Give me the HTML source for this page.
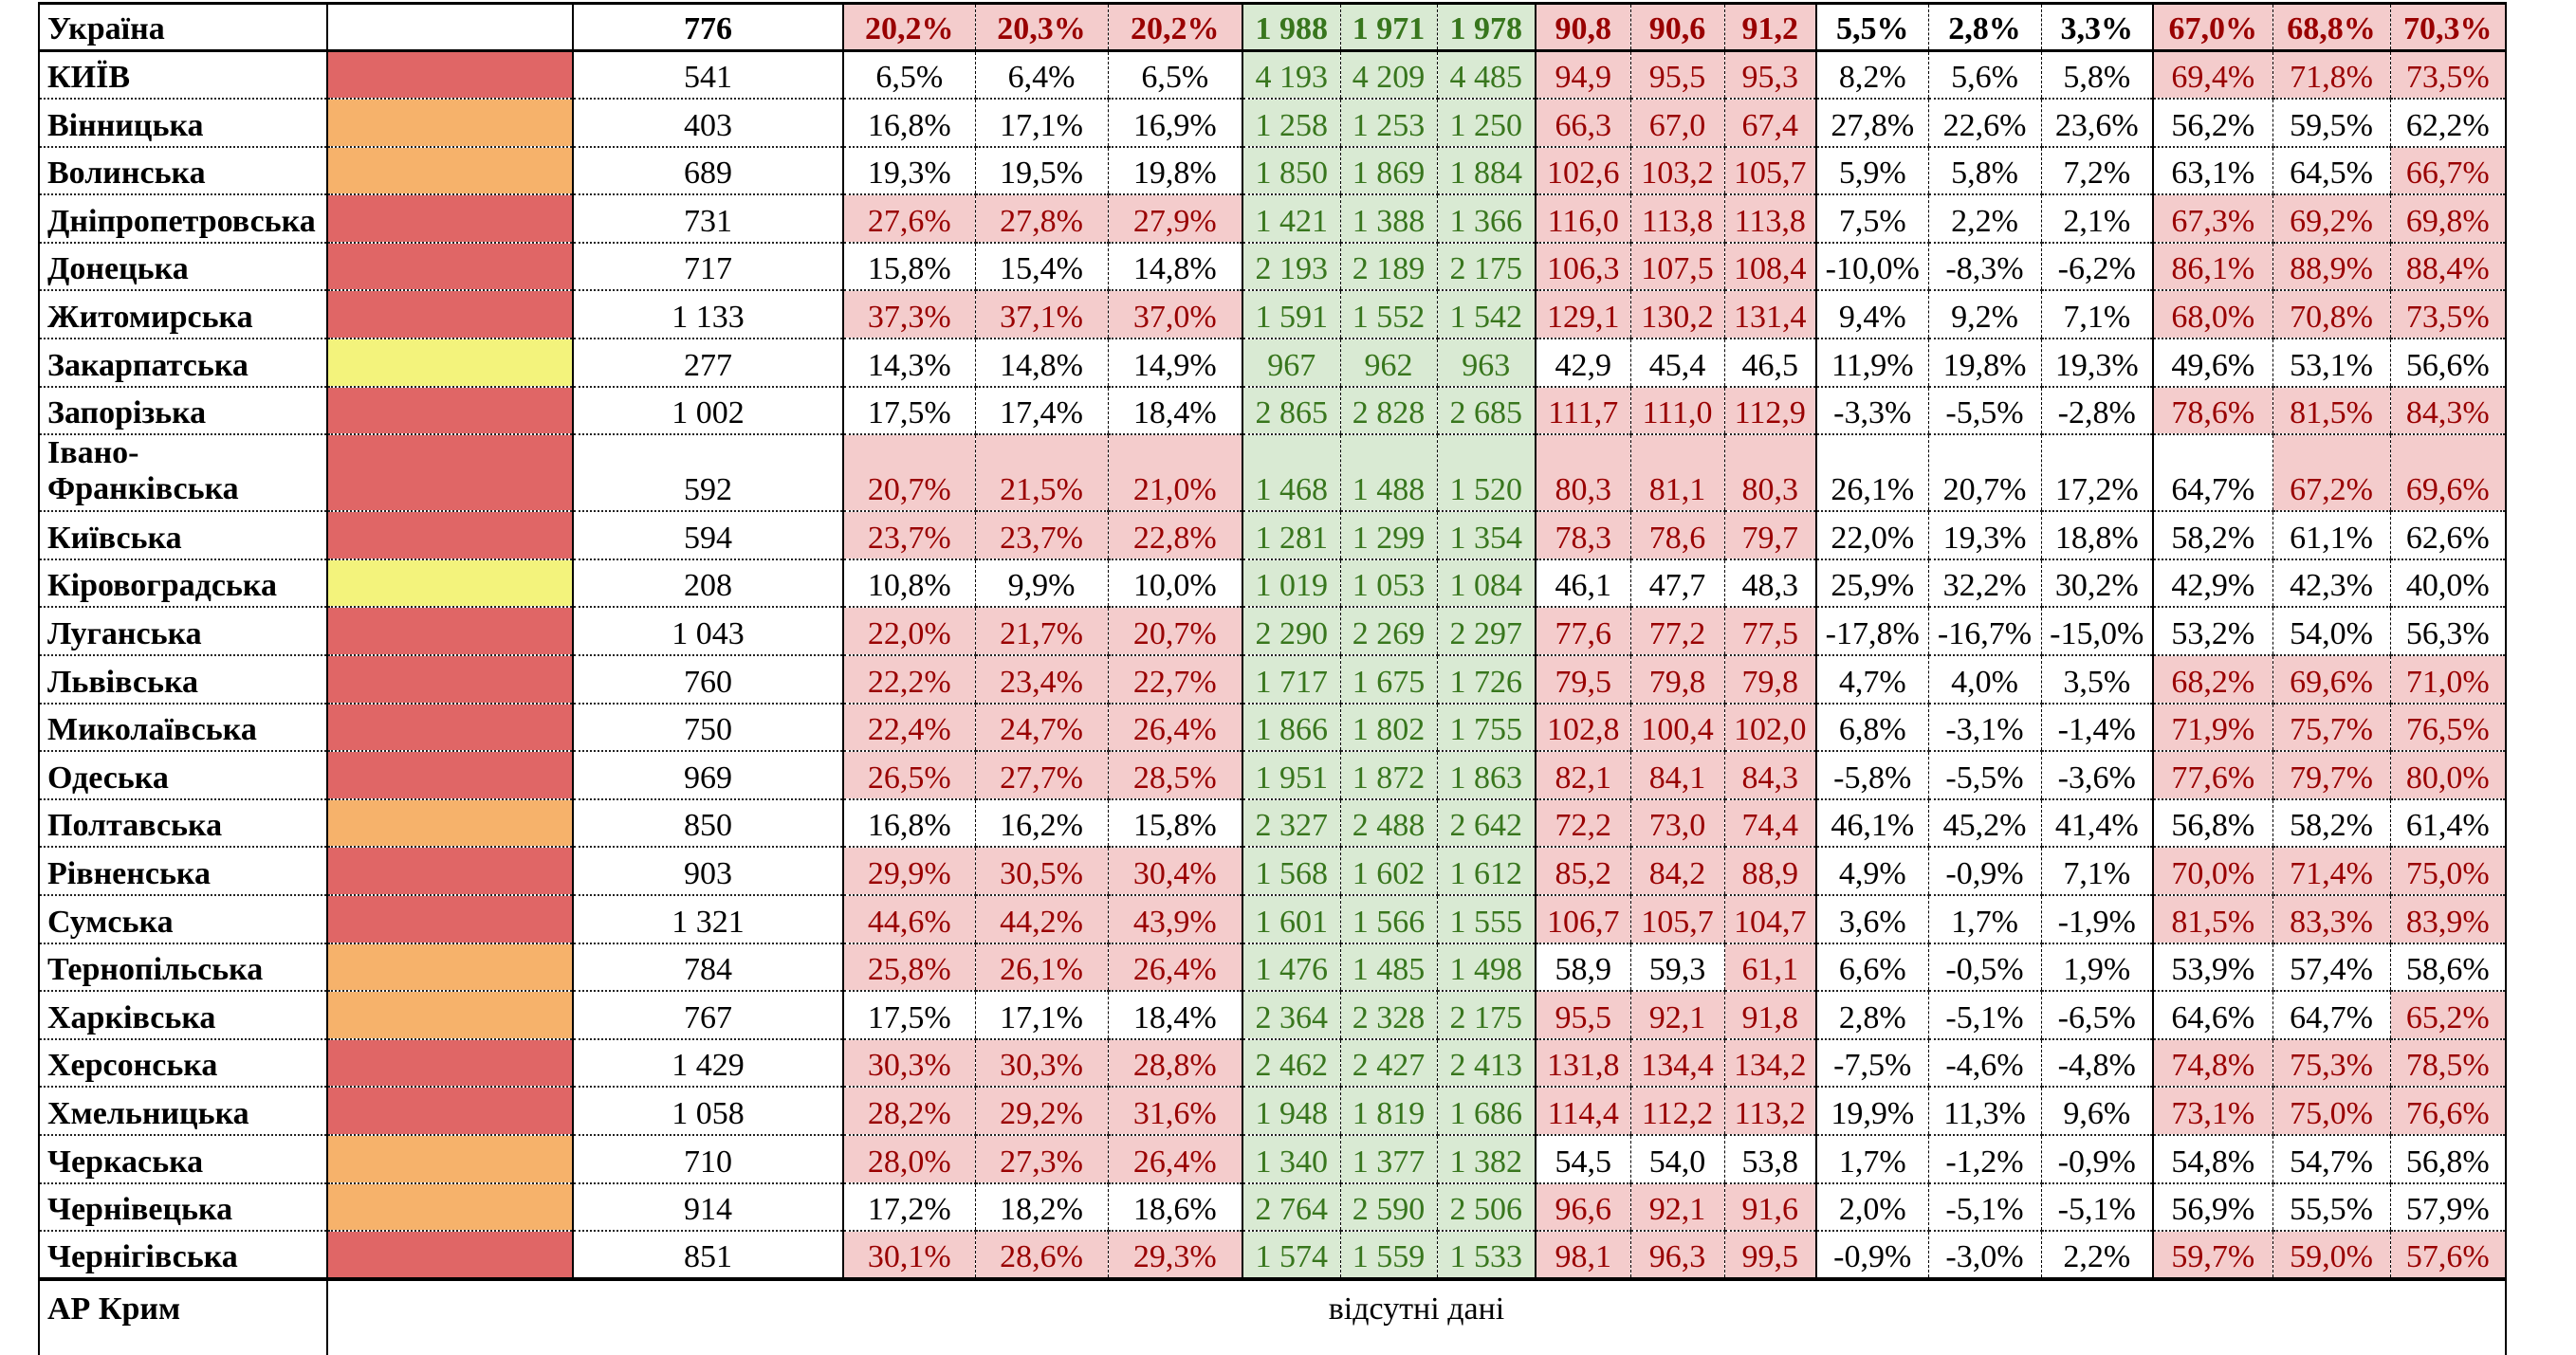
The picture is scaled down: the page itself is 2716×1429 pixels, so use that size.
<!DOCTYPE html>
<html><head><meta charset="utf-8">
<style>
html,body{margin:0;padding:0;background:#fff;width:2716px;height:1382px;overflow:hidden}
table{position:absolute;left:40px;top:2px;border-collapse:collapse;table-layout:fixed;
font-family:"Liberation Serif","DejaVu Serif",serif;font-size:34px;color:#000}
td{border-left:1px dashed #000;border-right:1px dashed #000;border-bottom:2px dotted #222;
text-align:center;vertical-align:bottom;padding:0 0 3px 0;line-height:36px;white-space:nowrap;overflow:hidden}
td:nth-child(1),td:nth-child(2),td:nth-child(3),td:nth-child(4),td:nth-child(7),td:nth-child(10),td:nth-child(13),td:nth-child(16){border-left:2px solid #000}
td:last-child{border-right:2px solid #000}
td:nth-child(7),td:nth-child(8),td:nth-child(9){background:#d9ead3;color:#38761d}
td.n{text-align:left;font-weight:bold;padding-left:8px}
td.p{background:#f4cccc;color:#990000}
td.R{background:#e06666}td.O{background:#f6b26b}td.Y{background:#f3f37c}
tr{height:50.6px}
tr.u td{font-weight:bold;border-top:3px solid #000;border-bottom:3px solid #000}
tr.last td{border-bottom:4px solid #000}
tr.iv{height:80px}
tr.cr td{vertical-align:top;padding-top:12px;border-bottom:none}
tr.cr td.c{border-left:2px solid #000;border-right:2px solid #000}
</style></head><body>
<table>
<colgroup><col style="width:304px"><col style="width:259px"><col style="width:285px"><col style="width:139px"><col style="width:140px"><col style="width:142px"><col style="width:103px"><col style="width:102px"><col style="width:104px"><col style="width:100px"><col style="width:99px"><col style="width:97px"><col style="width:118px"><col style="width:119px"><col style="width:118px"><col style="width:126px"><col style="width:124px"><col style="width:122px"></colgroup>
<tr class="u" style="height:50px"><td class="n">Україна</td><td></td><td>776</td><td class="p">20,2%</td><td class="p">20,3%</td><td class="p">20,2%</td><td>1 988</td><td>1 971</td><td>1 978</td><td class="p">90,8</td><td class="p">90,6</td><td class="p">91,2</td><td>5,5%</td><td>2,8%</td><td>3,3%</td><td class="p">67,0%</td><td class="p">68,8%</td><td class="p">70,3%</td></tr>
<tr><td class="n">КИЇВ</td><td class="R"></td><td>541</td><td>6,5%</td><td>6,4%</td><td>6,5%</td><td>4 193</td><td>4 209</td><td>4 485</td><td class="p">94,9</td><td class="p">95,5</td><td class="p">95,3</td><td>8,2%</td><td>5,6%</td><td>5,8%</td><td class="p">69,4%</td><td class="p">71,8%</td><td class="p">73,5%</td></tr>
<tr><td class="n">Вінницька</td><td class="O"></td><td>403</td><td>16,8%</td><td>17,1%</td><td>16,9%</td><td>1 258</td><td>1 253</td><td>1 250</td><td class="p">66,3</td><td class="p">67,0</td><td class="p">67,4</td><td>27,8%</td><td>22,6%</td><td>23,6%</td><td>56,2%</td><td>59,5%</td><td>62,2%</td></tr>
<tr><td class="n">Волинська</td><td class="O"></td><td>689</td><td>19,3%</td><td>19,5%</td><td>19,8%</td><td>1 850</td><td>1 869</td><td>1 884</td><td class="p">102,6</td><td class="p">103,2</td><td class="p">105,7</td><td>5,9%</td><td>5,8%</td><td>7,2%</td><td>63,1%</td><td>64,5%</td><td class="p">66,7%</td></tr>
<tr><td class="n">Дніпропетровська</td><td class="R"></td><td>731</td><td class="p">27,6%</td><td class="p">27,8%</td><td class="p">27,9%</td><td>1 421</td><td>1 388</td><td>1 366</td><td class="p">116,0</td><td class="p">113,8</td><td class="p">113,8</td><td>7,5%</td><td>2,2%</td><td>2,1%</td><td class="p">67,3%</td><td class="p">69,2%</td><td class="p">69,8%</td></tr>
<tr><td class="n">Донецька</td><td class="R"></td><td>717</td><td>15,8%</td><td>15,4%</td><td>14,8%</td><td>2 193</td><td>2 189</td><td>2 175</td><td class="p">106,3</td><td class="p">107,5</td><td class="p">108,4</td><td>-10,0%</td><td>-8,3%</td><td>-6,2%</td><td class="p">86,1%</td><td class="p">88,9%</td><td class="p">88,4%</td></tr>
<tr><td class="n">Житомирська</td><td class="R"></td><td>1 133</td><td class="p">37,3%</td><td class="p">37,1%</td><td class="p">37,0%</td><td>1 591</td><td>1 552</td><td>1 542</td><td class="p">129,1</td><td class="p">130,2</td><td class="p">131,4</td><td>9,4%</td><td>9,2%</td><td>7,1%</td><td class="p">68,0%</td><td class="p">70,8%</td><td class="p">73,5%</td></tr>
<tr><td class="n">Закарпатська</td><td class="Y"></td><td>277</td><td>14,3%</td><td>14,8%</td><td>14,9%</td><td>967</td><td>962</td><td>963</td><td>42,9</td><td>45,4</td><td>46,5</td><td>11,9%</td><td>19,8%</td><td>19,3%</td><td>49,6%</td><td>53,1%</td><td>56,6%</td></tr>
<tr><td class="n">Запорізька</td><td class="R"></td><td>1 002</td><td>17,5%</td><td>17,4%</td><td>18,4%</td><td>2 865</td><td>2 828</td><td>2 685</td><td class="p">111,7</td><td class="p">111,0</td><td class="p">112,9</td><td>-3,3%</td><td>-5,5%</td><td>-2,8%</td><td class="p">78,6%</td><td class="p">81,5%</td><td class="p">84,3%</td></tr>
<tr class="iv"><td class="n" style="white-space:normal;line-height:38px">Івано-<br>Франківська</td><td class="R"></td><td>592</td><td class="p">20,7%</td><td class="p">21,5%</td><td class="p">21,0%</td><td>1 468</td><td>1 488</td><td>1 520</td><td class="p">80,3</td><td class="p">81,1</td><td class="p">80,3</td><td>26,1%</td><td>20,7%</td><td>17,2%</td><td>64,7%</td><td class="p">67,2%</td><td class="p">69,6%</td></tr>
<tr><td class="n">Київська</td><td class="R"></td><td>594</td><td class="p">23,7%</td><td class="p">23,7%</td><td class="p">22,8%</td><td>1 281</td><td>1 299</td><td>1 354</td><td class="p">78,3</td><td class="p">78,6</td><td class="p">79,7</td><td>22,0%</td><td>19,3%</td><td>18,8%</td><td>58,2%</td><td>61,1%</td><td>62,6%</td></tr>
<tr><td class="n">Кіровоградська</td><td class="Y"></td><td>208</td><td>10,8%</td><td>9,9%</td><td>10,0%</td><td>1 019</td><td>1 053</td><td>1 084</td><td>46,1</td><td>47,7</td><td>48,3</td><td>25,9%</td><td>32,2%</td><td>30,2%</td><td>42,9%</td><td>42,3%</td><td>40,0%</td></tr>
<tr><td class="n">Луганська</td><td class="R"></td><td>1 043</td><td class="p">22,0%</td><td class="p">21,7%</td><td class="p">20,7%</td><td>2 290</td><td>2 269</td><td>2 297</td><td class="p">77,6</td><td class="p">77,2</td><td class="p">77,5</td><td>-17,8%</td><td>-16,7%</td><td>-15,0%</td><td>53,2%</td><td>54,0%</td><td>56,3%</td></tr>
<tr><td class="n">Львівська</td><td class="R"></td><td>760</td><td class="p">22,2%</td><td class="p">23,4%</td><td class="p">22,7%</td><td>1 717</td><td>1 675</td><td>1 726</td><td class="p">79,5</td><td class="p">79,8</td><td class="p">79,8</td><td>4,7%</td><td>4,0%</td><td>3,5%</td><td class="p">68,2%</td><td class="p">69,6%</td><td class="p">71,0%</td></tr>
<tr><td class="n">Миколаївська</td><td class="R"></td><td>750</td><td class="p">22,4%</td><td class="p">24,7%</td><td class="p">26,4%</td><td>1 866</td><td>1 802</td><td>1 755</td><td class="p">102,8</td><td class="p">100,4</td><td class="p">102,0</td><td>6,8%</td><td>-3,1%</td><td>-1,4%</td><td class="p">71,9%</td><td class="p">75,7%</td><td class="p">76,5%</td></tr>
<tr><td class="n">Одеська</td><td class="R"></td><td>969</td><td class="p">26,5%</td><td class="p">27,7%</td><td class="p">28,5%</td><td>1 951</td><td>1 872</td><td>1 863</td><td class="p">82,1</td><td class="p">84,1</td><td class="p">84,3</td><td>-5,8%</td><td>-5,5%</td><td>-3,6%</td><td class="p">77,6%</td><td class="p">79,7%</td><td class="p">80,0%</td></tr>
<tr><td class="n">Полтавська</td><td class="O"></td><td>850</td><td>16,8%</td><td>16,2%</td><td>15,8%</td><td>2 327</td><td>2 488</td><td>2 642</td><td class="p">72,2</td><td class="p">73,0</td><td class="p">74,4</td><td>46,1%</td><td>45,2%</td><td>41,4%</td><td>56,8%</td><td>58,2%</td><td>61,4%</td></tr>
<tr><td class="n">Рівненська</td><td class="R"></td><td>903</td><td class="p">29,9%</td><td class="p">30,5%</td><td class="p">30,4%</td><td>1 568</td><td>1 602</td><td>1 612</td><td class="p">85,2</td><td class="p">84,2</td><td class="p">88,9</td><td>4,9%</td><td>-0,9%</td><td>7,1%</td><td class="p">70,0%</td><td class="p">71,4%</td><td class="p">75,0%</td></tr>
<tr><td class="n">Сумська</td><td class="R"></td><td>1 321</td><td class="p">44,6%</td><td class="p">44,2%</td><td class="p">43,9%</td><td>1 601</td><td>1 566</td><td>1 555</td><td class="p">106,7</td><td class="p">105,7</td><td class="p">104,7</td><td>3,6%</td><td>1,7%</td><td>-1,9%</td><td class="p">81,5%</td><td class="p">83,3%</td><td class="p">83,9%</td></tr>
<tr><td class="n">Тернопільська</td><td class="O"></td><td>784</td><td class="p">25,8%</td><td class="p">26,1%</td><td class="p">26,4%</td><td>1 476</td><td>1 485</td><td>1 498</td><td>58,9</td><td>59,3</td><td class="p">61,1</td><td>6,6%</td><td>-0,5%</td><td>1,9%</td><td>53,9%</td><td>57,4%</td><td>58,6%</td></tr>
<tr><td class="n">Харківська</td><td class="O"></td><td>767</td><td>17,5%</td><td>17,1%</td><td>18,4%</td><td>2 364</td><td>2 328</td><td>2 175</td><td class="p">95,5</td><td class="p">92,1</td><td class="p">91,8</td><td>2,8%</td><td>-5,1%</td><td>-6,5%</td><td>64,6%</td><td>64,7%</td><td class="p">65,2%</td></tr>
<tr><td class="n">Херсонська</td><td class="R"></td><td>1 429</td><td class="p">30,3%</td><td class="p">30,3%</td><td class="p">28,8%</td><td>2 462</td><td>2 427</td><td>2 413</td><td class="p">131,8</td><td class="p">134,4</td><td class="p">134,2</td><td>-7,5%</td><td>-4,6%</td><td>-4,8%</td><td class="p">74,8%</td><td class="p">75,3%</td><td class="p">78,5%</td></tr>
<tr><td class="n">Хмельницька</td><td class="R"></td><td>1 058</td><td class="p">28,2%</td><td class="p">29,2%</td><td class="p">31,6%</td><td>1 948</td><td>1 819</td><td>1 686</td><td class="p">114,4</td><td class="p">112,2</td><td class="p">113,2</td><td>19,9%</td><td>11,3%</td><td>9,6%</td><td class="p">73,1%</td><td class="p">75,0%</td><td class="p">76,6%</td></tr>
<tr><td class="n">Черкаська</td><td class="O"></td><td>710</td><td class="p">28,0%</td><td class="p">27,3%</td><td class="p">26,4%</td><td>1 340</td><td>1 377</td><td>1 382</td><td>54,5</td><td>54,0</td><td>53,8</td><td>1,7%</td><td>-1,2%</td><td>-0,9%</td><td>54,8%</td><td>54,7%</td><td>56,8%</td></tr>
<tr><td class="n">Чернівецька</td><td class="O"></td><td>914</td><td>17,2%</td><td>18,2%</td><td>18,6%</td><td>2 764</td><td>2 590</td><td>2 506</td><td class="p">96,6</td><td class="p">92,1</td><td class="p">91,6</td><td>2,0%</td><td>-5,1%</td><td>-5,1%</td><td>56,9%</td><td>55,5%</td><td>57,9%</td></tr>
<tr class="last"><td class="n">Чернігівська</td><td class="R"></td><td>851</td><td class="p">30,1%</td><td class="p">28,6%</td><td class="p">29,3%</td><td>1 574</td><td>1 559</td><td>1 533</td><td class="p">98,1</td><td class="p">96,3</td><td class="p">99,5</td><td>-0,9%</td><td>-3,0%</td><td>2,2%</td><td class="p">59,7%</td><td class="p">59,0%</td><td class="p">57,6%</td></tr>
<tr class="cr" style="height:80px"><td class="n c">АР Крим</td><td class="c" colspan="17" style="background:#fff;color:#000">відсутні дані</td></tr>
</table>
</body></html>
